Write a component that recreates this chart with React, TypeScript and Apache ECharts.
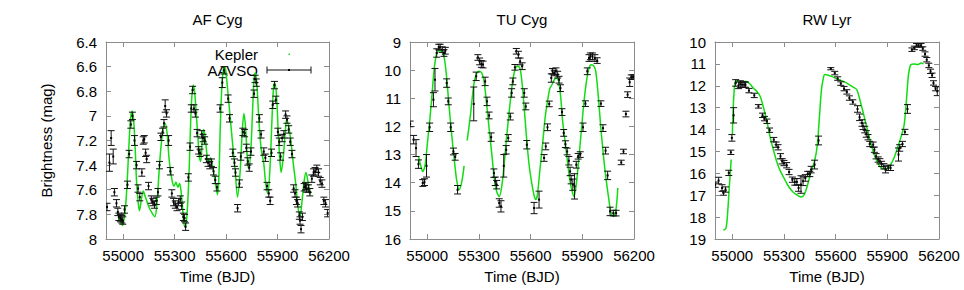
import React, { useEffect, useRef } from "react";
import * as echarts from "echarts";

// ---------- data ----------
const panelTitles = ["AF Cyg", "TU Cyg", "RW Lyr"];
const xTickValues = [55000, 55300, 55600, 55900, 56200];
const xRange = [54900, 56200];
const yRanges = [
  [6.4, 8, 0.2],
  [9, 16, 1],
  [10, 19, 1],
];

// Kepler light curves: [BJD, mag]
const afKepler: (number | null)[][] = [
  [54972, 7.82], [54985, 7.86], [54996, 7.89], [55005, 7.84], [55014, 7.74], [55023, 7.55],
  [55033, 7.26], [55043, 7.02], [55053, 6.96], [55062, 7.05], [55070, 7.26], [55078, 7.53],
  [55088, 7.71], [55095, 7.77], [55105, 7.69], [55117, 7.61], [55130, 7.66], [55150, 7.74],
  [55169, 7.79], [55185, 7.82], [55195, 7.74], [55205, 7.55], [55218, 7.29], [55234, 7.1],
  [55245, 7.06], [55257, 7.15], [55267, 7.34], [55277, 7.45], [55286, 7.53], [55296, 7.57],
  [55308, 7.54], [55319, 7.58], [55329, 7.55], [55339, 7.63], [55349, 7.79], [55358, 7.9],
  [55368, 7.87], [55378, 7.66], [55386, 7.39], [55393, 7.07], [55401, 6.83], [55409, 6.75],
  [55417, 6.81], [55427, 7.0], [55436, 7.18], [55444, 7.34], [55452, 7.37], [55462, 7.18],
  [55470, 7.11], [55480, 7.2], [55490, 7.33], [55500, 7.38], [55510, 7.34], [55522, 7.42],
  [55535, 7.52], [55550, 7.64], [55558, 7.5], [55566, 7.1], [55574, 6.8], [55582, 6.65],
  [55590, 6.6], [55598, 6.63], [55614, 6.86], [55633, 7.15], [55653, 7.45], [55667, 7.66],
  [55682, 7.45], [55694, 7.13], [55704, 6.98], [55714, 7.1], [55725, 7.37], [55733, 7.43],
  [55745, 7.26], [55755, 6.94], [55763, 6.7], [55771, 6.65], [55780, 6.75], [55792, 7.05],
  [55804, 7.26], [55820, 7.39], [55831, 7.55], [55843, 7.63], [55855, 7.45], [55867, 7.05],
  [55876, 6.78], [55884, 6.73], [55894, 6.83], [55904, 7.13], [55914, 7.37], [55921, 7.46],
  [55933, 7.34], [55945, 7.13], [55953, 7.03], [55967, 7.1], [55980, 7.23], [55992, 7.39],
  [56006, 7.55], [56019, 7.74], [56031, 7.82], [56043, 7.69], [56055, 7.53], [56066, 7.46],
  [56078, 7.54], [56092, 7.64],
];

const tuKepler: (number | null)[][] = [
  [54949, 13.06], [54961, 13.36], [54974, 13.6], [54988, 13.36], [55000, 12.65], [55014, 11.82],
  [55028, 10.87], [55039, 10.04], [55053, 9.45], [55067, 9.31], [55083, 9.33], [55099, 9.57],
  [55113, 10.28], [55126, 11.23], [55142, 12.29], [55158, 13.24], [55172, 13.95], [55186, 14.25],
  [55201, 13.95], [55214, 13.4], [55222, null], [55232, 12.5], [55251, 11.58], [55270, 10.52],
  [55284, 10.16], [55300, 10.04], [55316, 10.1], [55330, 10.4], [55343, 11.11], [55359, 12.06],
  [55375, 13.0], [55389, 13.83], [55403, 14.31], [55418, 14.49], [55434, 14.07], [55448, 13.24],
  [55462, 12.29], [55478, 11.34], [55493, 10.52], [55507, 10.04], [55521, 9.86], [55533, 9.88],
  [55541, 10.0], [55551, 10.5], [55561, 11.2], [55575, 12.3], [55590, 13.3], [55606, 14.0],
  [55620, 14.45], [55629, 14.6], [55639, 14.45], [55653, 13.6], [55669, 12.65], [55684, 11.7],
  [55698, 11.11], [55712, 10.64], [55724, 10.52], [55737, 10.34], [55751, 10.28], [55763, 10.4],
  [55775, 10.99], [55786, 11.82], [55800, 12.53], [55816, 13.36], [55829, 13.95], [55841, 14.31],
  [55851, 14.49], [55865, 14.07], [55880, 13.12], [55894, 12.18], [55908, 11.23], [55924, 10.4],
  [55939, 9.92], [55953, 9.81], [55967, 9.86], [55978, 10.04], [55992, 10.87], [56006, 11.94],
  [56022, 13.0], [56037, 13.83], [56053, 14.55], [56065, 15.02], [56080, 15.2], [56094, 15.02],
  [56106, 14.19],
];

const rwKepler: (number | null)[][] = [
  [54949, 18.6], [54964, 18.5], [54974, 17.73], [54984, 16.51], [54994, 15.37], [54997, null],
  [55001, 14.2], [55004, 13.32], [55014, 11.95], [55024, 11.77], [55043, 11.84], [55063, 11.8],
  [55083, 11.8], [55103, 11.92], [55122, 12.1], [55142, 12.25], [55162, 12.48], [55182, 13.01],
  [55201, 13.62], [55221, 14.38], [55241, 14.99], [55261, 15.53], [55280, 15.91], [55300, 16.21],
  [55320, 16.51], [55340, 16.74], [55359, 16.9], [55379, 17.0], [55399, 17.08], [55418, 16.97],
  [55438, 16.51], [55458, 15.91], [55478, 15.45], [55494, 14.69], [55507, 13.32], [55517, 12.25],
  [55527, 11.72], [55537, 11.49], [55557, 11.52], [55576, 11.57], [55596, 11.64], [55616, 11.72],
  [55645, 11.8], [55674, 11.92], [55704, 12.07], [55723, 12.18], [55743, 12.71], [55763, 13.32],
  [55782, 13.93], [55802, 14.54], [55821, 15.07], [55841, 15.45], [55861, 15.72], [55880, 15.8],
  [55900, 15.78], [55919, 15.6], [55939, 15.3], [55959, 14.84], [55978, 14.38], [55998, 13.77],
  [56012, 12.56], [56023, 11.49], [56037, 11.03], [56057, 11.0], [56076, 11.03], [56096, 10.96],
  [56110, 11.0],
];

// AAVSO observations: [BJD, mag, error]
const afAavso = [
  [54906, 7.74, 0.03], [54920, 7.38, 0.07], [54930, 7.18, 0.06], [54942, 7.33, 0.06],
  [54949, 7.62, 0.03], [54961, 7.71, 0.03], [54969, 7.78, 0.03], [54975, 7.82, 0.03],
  [54984, 7.83, 0.03], [54992, 7.84, 0.03], [54998, 7.85, 0.03], [55008, 7.76, 0.03],
  [55025, 7.56, 0.03], [55035, 7.31, 0.03], [55045, 7.07, 0.03], [55054, 7.0, 0.03],
  [55066, 7.2, 0.04], [55078, 7.4, 0.03], [55087, 7.59, 0.03], [55097, 7.66, 0.03],
  [55109, 7.46, 0.03], [55117, 7.2, 0.03], [55123, 7.19, 0.03], [55131, 7.3, 0.03],
  [55137, 7.35, 0.03], [55148, 7.57, 0.03], [55164, 7.68, 0.03], [55173, 7.7, 0.03],
  [55183, 7.72, 0.03], [55193, 7.69, 0.03], [55203, 7.62, 0.03], [55212, 7.4, 0.03],
  [55220, 7.17, 0.03], [55230, 7.13, 0.03], [55238, 7.06, 0.03], [55245, 6.92, 0.05],
  [55253, 6.98, 0.03], [55265, 7.2, 0.04], [55275, 7.45, 0.03], [55284, 7.63, 0.03],
  [55294, 7.7, 0.03], [55304, 7.72, 0.03], [55314, 7.74, 0.03], [55323, 7.7, 0.03],
  [55333, 7.68, 0.03], [55341, 7.73, 0.03], [55351, 7.82, 0.03], [55358, 7.83, 0.03],
  [55364, 7.9, 0.03], [55380, 7.5, 0.03], [55390, 7.25, 0.03], [55397, 6.94, 0.03],
  [55405, 6.79, 0.03], [55413, 6.94, 0.03], [55421, 6.98, 0.03], [55431, 7.14, 0.03],
  [55440, 7.28, 0.03], [55448, 7.3, 0.03], [55458, 7.15, 0.03], [55466, 7.18, 0.03],
  [55475, 7.2, 0.03], [55485, 7.35, 0.03], [55495, 7.38, 0.03], [55505, 7.4, 0.03],
  [55515, 7.38, 0.03], [55527, 7.45, 0.03], [55537, 7.52, 0.03], [55547, 7.58, 0.03],
  [55565, 6.94, 0.03], [55578, 6.73, 0.04], [55588, 6.63, 0.03], [55612, 6.86, 0.03],
  [55620, 7.02, 0.03], [55639, 7.3, 0.03], [55649, 7.38, 0.03], [55655, 7.46, 0.03],
  [55667, 7.75, 0.03], [55678, 7.55, 0.03], [55686, 7.33, 0.03], [55698, 7.13, 0.03],
  [55708, 7.14, 0.03], [55718, 7.26, 0.03], [55727, 7.37, 0.03], [55735, 7.42, 0.03],
  [55745, 7.29, 0.03], [55763, 6.82, 0.03], [55769, 6.7, 0.03], [55776, 6.73, 0.03],
  [55794, 7.02, 0.03], [55804, 7.15, 0.03], [55820, 7.29, 0.03], [55829, 7.34, 0.03],
  [55839, 7.57, 0.03], [55849, 7.63, 0.03], [55857, 7.69, 0.03], [55865, 7.3, 0.03],
  [55872, 6.91, 0.03], [55882, 6.75, 0.03], [55890, 6.87, 0.03], [55902, 7.13, 0.03],
  [55910, 7.21, 0.03], [55918, 7.33, 0.03], [55927, 7.18, 0.03], [55937, 7.15, 0.03],
  [55947, 6.99, 0.03], [55955, 7.03, 0.03], [55965, 7.11, 0.03], [55974, 7.21, 0.03],
  [55984, 7.31, 0.03], [55994, 7.59, 0.03], [56002, 7.63, 0.03], [56010, 7.69, 0.03],
  [56017, 7.71, 0.03], [56027, 7.81, 0.03], [56031, 7.85, 0.03], [56037, 7.92, 0.03],
  [56045, 7.82, 0.03], [56055, 7.58, 0.03], [56063, 7.57, 0.03], [56070, 7.59, 0.03],
  [56080, 7.59, 0.03], [56088, 7.62, 0.03], [56100, 7.51, 0.03], [56110, 7.46, 0.03],
  [56119, 7.45, 0.03], [56129, 7.43, 0.03], [56139, 7.46, 0.03], [56149, 7.53, 0.03],
  [56159, 7.55, 0.03], [56170, 7.69, 0.03], [56180, 7.71, 0.03], [56192, 7.79, 0.03],
];

const tuAavso = [
  [54901, 11.91, 0.1], [54921, 12.47, 0.15], [54935, 12.77, 0.3], [54949, 13.34, 0.15],
  [54974, 14.01, 0.12], [54984, 13.98, 0.12], [54996, 13.4, 0.4], [55014, 12.03, 0.15],
  [55036, 11.05, 0.25], [55045, 10.34, 0.4], [55055, 9.39, 0.15], [55067, 9.18, 0.1],
  [55075, 9.18, 0.1], [55087, 9.27, 0.1], [55097, 9.39, 0.12], [55105, 9.31, 0.12],
  [55113, 10.46, 0.15], [55122, 11.11, 0.12], [55136, 12.03, 0.15], [55152, 12.89, 0.12],
  [55162, 13.08, 0.12], [55176, 14.25, 0.15], [55270, 11.2, 0.6], [55284, 10.22, 0.15],
  [55294, 9.55, 0.1], [55304, 9.69, 0.12], [55314, 9.78, 0.12], [55324, 9.8, 0.12],
  [55336, 10.4, 0.15], [55347, 11.11, 0.15], [55359, 11.61, 0.12], [55371, 12.38, 0.15],
  [55387, 13.66, 0.15], [55395, 13.95, 0.15], [55403, 14.07, 0.15], [55418, 14.72, 0.15],
  [55428, 14.84, 0.2], [55444, 13.4, 0.4], [55458, 12.83, 0.15], [55470, 12.41, 0.12],
  [55482, 11.65, 0.12], [55490, 10.81, 0.15], [55497, 10.4, 0.12], [55509, 9.9, 0.1],
  [55517, 9.33, 0.1], [55529, 9.45, 0.12], [55539, 9.69, 0.12], [55551, 9.86, 0.12],
  [55563, 10.81, 0.15], [55572, 11.29, 0.12], [55578, 12.65, 0.15], [55620, 14.9, 0.2],
  [55649, 14.6, 0.3], [55678, 13.12, 0.12], [55688, 12.71, 0.12], [55698, 12.03, 0.12],
  [55708, 11.2, 0.1], [55720, 10.28, 0.15], [55727, 10.04, 0.1], [55737, 10.1, 0.1],
  [55747, 10.04, 0.12], [55757, 10.16, 0.12], [55765, 10.34, 0.12], [55773, 10.64, 0.12],
  [55782, 11.49, 0.12], [55792, 12.23, 0.12], [55802, 12.63, 0.12], [55812, 12.89, 0.12],
  [55822, 13.22, 0.15], [55829, 13.6, 0.15], [55835, 13.89, 0.15], [55845, 14.07, 0.2],
  [55855, 14.13, 0.45], [55865, 13.36, 0.12], [55876, 13.06, 0.1], [55888, 13.0, 0.1],
  [55904, 12.03, 0.15], [55918, 11.19, 0.1], [55929, 10.04, 0.12], [55939, 9.57, 0.12],
  [55947, 9.51, 0.12], [55959, 9.51, 0.12], [55973, 9.57, 0.12], [55986, 9.66, 0.1],
  [56008, 11.19, 0.1], [56020, 12.06, 0.12], [56035, 12.86, 0.12], [56047, 13.74, 0.15],
  [56061, 15.02, 0.15], [56080, 15.08, 0.1], [56096, 15.08, 0.1], [56126, 13.28, 0.08],
  [56139, 12.89, 0.08], [56153, 11.56, 0.1], [56163, 10.87, 0.1], [56175, 10.43, 0.15],
  [56184, 10.25, 0.08], [56194, 10.25, 0.08], [56202, 10.25, 0.08],
];

const rwAavso = [
  [54901, 16.52, 0.12], [54921, 16.33, 0.15], [54941, 16.67, 0.15], [54949, 16.9, 0.1],
  [54961, 16.74, 0.12], [54980, 15.98, 0.12], [54992, 15.04, 0.1], [54998, 14.38, 0.15],
  [55008, 13.35, 0.35], [55020, 11.87, 0.15], [55037, 11.98, 0.15], [55047, 11.92, 0.15],
  [55057, 11.95, 0.12], [55069, 11.95, 0.12], [55077, 11.95, 0.12], [55097, 12.22, 0.1],
  [55128, 12.44, 0.1], [55152, 12.94, 0.08], [55176, 13.35, 0.1], [55187, 13.5, 0.1],
  [55201, 13.62, 0.1], [55217, 14.03, 0.1], [55241, 14.46, 0.1], [55255, 14.69, 0.12],
  [55266, 14.81, 0.12], [55280, 15.22, 0.12], [55290, 15.45, 0.12], [55300, 15.53, 0.12],
  [55316, 15.63, 0.12], [55330, 15.94, 0.12], [55349, 16.29, 0.12], [55363, 16.39, 0.15],
  [55375, 16.39, 0.15], [55385, 16.67, 0.15], [55399, 16.51, 0.4], [55411, 16.36, 0.2],
  [55424, 16.21, 0.15], [55438, 16.03, 0.12], [55450, 16.03, 0.12], [55458, 15.83, 0.15],
  [55478, 15.6, 0.2], [55501, 14.5, 0.2], [55572, 11.22, 0.05], [55595, 11.42, 0.08],
  [55612, 11.67, 0.08], [55630, 11.9, 0.08], [55649, 12.13, 0.1], [55665, 12.28, 0.1],
  [55680, 12.56, 0.1], [55700, 12.74, 0.1], [55727, 13.06, 0.15], [55739, 13.44, 0.15],
  [55753, 13.7, 0.15], [55759, 13.85, 0.15], [55769, 14.0, 0.15], [55778, 14.2, 0.15],
  [55788, 14.35, 0.12], [55798, 14.66, 0.12], [55818, 14.69, 0.12], [55825, 14.92, 0.12],
  [55835, 15.22, 0.12], [55847, 15.37, 0.12], [55857, 15.45, 0.12], [55867, 15.57, 0.12],
  [55880, 15.68, 0.12], [55890, 15.83, 0.15], [55906, 15.75, 0.12], [55919, 15.75, 0.12],
  [55965, 15.14, 0.3], [55972, 14.84, 0.15], [55988, 14.66, 0.12], [56002, 14.11, 0.12],
  [56017, 13.06, 0.2], [56043, 10.35, 0.08], [56057, 10.27, 0.08], [56070, 10.15, 0.08],
  [56082, 10.15, 0.08], [56096, 10.15, 0.08], [56106, 10.3, 0.08], [56119, 10.55, 0.1],
  [56129, 10.81, 0.1], [56141, 11.07, 0.1], [56151, 11.34, 0.1], [56160, 11.52, 0.1],
  [56168, 11.87, 0.1], [56180, 12.13, 0.1], [56190, 12.25, 0.2],
];

const keplerSets = [afKepler, tuKepler, rwKepler];
const aavsoSets = [afAavso, tuAavso, rwAavso];

// ---------- styling ----------
const FONT = '"Liberation Sans", Arial, Helvetica, sans-serif';
const FRAME = "#8c8c8c";
const GREEN = "#11dd11";
const gridBoxes = [
  { left: 106, width: 223 },
  { left: 410, width: 224 },
  { left: 715, width: 224 },
];
const TOP = 42;
const HEIGHT = 197;

function errorBarItem(params: any, api: any) {
  const t = api.value(0);
  const m = api.value(1);
  const e = api.value(2);
  const c = api.coord([t, m]);
  const a = api.coord([t, m - e]);
  const b = api.coord([t, m + e]);
  const w = 3.5;
  const st = { stroke: "#111", lineWidth: 1 };
  return {
    type: "group",
    children: [
      { type: "line", shape: { x1: c[0], y1: a[1], x2: c[0], y2: b[1] }, style: st },
      { type: "line", shape: { x1: c[0] - w, y1: a[1], x2: c[0] + w, y2: a[1] }, style: st },
      { type: "line", shape: { x1: c[0] - w, y1: b[1], x2: c[0] + w, y2: b[1] }, style: st },
      { type: "rect", shape: { x: c[0] - 1, y: c[1] - 1, width: 2, height: 2 }, style: { fill: "#000" } },
    ],
  };
}

export default function App() {
  const ref = useRef<HTMLDivElement>(null);

  useEffect(() => {
    if (!ref.current) return;
    const chart = echarts.init(ref.current, undefined, { renderer: "svg" });

    const grid = gridBoxes.map((g) => ({ left: g.left, width: g.width, top: TOP, height: HEIGHT }));
    const xAxis: any[] = [];
    const yAxis: any[] = [];
    const series: any[] = [];

    gridBoxes.forEach((_, i) => {
      const [ymin, ymax, yint] = yRanges[i];
      const lineStyle = { color: FRAME, width: 1 };
      xAxis.push({
        type: "value",
        gridIndex: i,
        position: "bottom",
        min: xRange[0],
        max: xRange[1],
        name: "Time (BJD)",
        nameLocation: "middle",
        nameGap: 30,
        nameTextStyle: { fontFamily: FONT, fontSize: 15, color: "#000" },
        axisLine: { show: true, lineStyle },
        axisTick: { show: true, inside: true, length: 5, lineStyle, customValues: xTickValues },
        axisLabel: {
          show: true,
          customValues: xTickValues,
          formatter: (v: number) => String(v),
          margin: 9,
          fontFamily: FONT,
          fontSize: 15,
          color: "#000",
        },
        splitLine: { show: false },
      });
      xAxis.push({
        type: "value",
        gridIndex: i,
        position: "top",
        min: xRange[0],
        max: xRange[1],
        axisLine: { show: true, lineStyle },
        axisTick: { show: true, inside: true, length: 5, lineStyle, customValues: xTickValues },
        axisLabel: { show: false },
        splitLine: { show: false },
      });
      yAxis.push({
        type: "value",
        gridIndex: i,
        position: "left",
        inverse: true,
        min: ymin,
        max: ymax,
        interval: yint,
        name: i === 0 ? "Brightness (mag)" : "",
        nameLocation: "middle",
        nameGap: 52,
        nameTextStyle: { fontFamily: FONT, fontSize: 15, color: "#000" },
        axisLine: { show: true, lineStyle },
        axisTick: { show: true, inside: true, length: 5, lineStyle },
        axisLabel: {
          show: true,
          formatter: (v: number) => String(Math.round(v * 10) / 10),
          margin: 9,
          fontFamily: FONT,
          fontSize: 15,
          color: "#000",
        },
        splitLine: { show: false },
      });
      yAxis.push({
        type: "value",
        gridIndex: i,
        position: "right",
        inverse: true,
        min: ymin,
        max: ymax,
        interval: yint,
        axisLine: { show: true, lineStyle },
        axisTick: { show: true, inside: true, length: 5, lineStyle },
        axisLabel: { show: false },
        splitLine: { show: false },
      });

      series.push({
        name: "Kepler",
        type: "line",
        xAxisIndex: i * 2,
        yAxisIndex: i * 2,
        data: keplerSets[i],
        showSymbol: false,
        symbol: "none",
        smooth: 0.3,
        connectNulls: false,
        lineStyle: { color: GREEN, width: 1.5 },
        itemStyle: { color: GREEN },
        z: 2,
      });
      series.push({
        name: "AAVSO",
        type: "custom",
        xAxisIndex: i * 2,
        yAxisIndex: i * 2,
        data: aavsoSets[i],
        encode: { x: 0, y: 1 },
        renderItem: errorBarItem,
        clip: true,
        z: 3,
      });
    });

    const titleX = gridBoxes.map((g) => g.left + g.width / 2);
    const graphic: any[] = panelTitles.map((t, i) => ({
      type: "text",
      x: titleX[i],
      y: 19,
      style: {
        text: t,
        fontFamily: FONT,
        fontSize: 15,
        fill: "#000",
        align: "center",
        verticalAlign: "middle",
      },
    }));

    // legend in panel 1 (gnuplot style)
    const legSt = { stroke: "#111", lineWidth: 1 };
    graphic.push(
      {
        type: "text",
        x: 258,
        y: 54,
        style: {
          text: "Kepler",
          fontFamily: FONT,
          fontSize: 15,
          lineHeight: 15,
          fill: "#000",
          align: "right",
          verticalAlign: "middle",
        },
      },
      { type: "rect", shape: { x: 288.5, y: 53.5, width: 1.5, height: 1.5 }, style: { fill: GREEN } },
      {
        type: "text",
        x: 258,
        y: 70.5,
        style: {
          text: "AAVSO",
          fontFamily: FONT,
          fontSize: 15,
          lineHeight: 15,
          fill: "#000",
          align: "right",
          verticalAlign: "middle",
        },
      },
      { type: "line", shape: { x1: 267, y1: 70, x2: 311, y2: 70 }, style: legSt },
      { type: "line", shape: { x1: 267, y1: 66.5, x2: 267, y2: 73.5 }, style: legSt },
      { type: "line", shape: { x1: 311, y1: 66.5, x2: 311, y2: 73.5 }, style: legSt },
      { type: "rect", shape: { x: 288, y: 69, width: 2, height: 2 }, style: { fill: "#000" } }
    );

    chart.setOption({
      animation: false,
      backgroundColor: "#ffffff",
      textStyle: { fontFamily: FONT },
      grid,
      xAxis,
      yAxis,
      series,
      graphic,
    });

    return () => {
      chart.dispose();
    };
  }, []);

  return (
    <div
      ref={ref}
      style={{ position: "fixed", left: 0, top: 0, width: 964, height: 290, background: "#fff" }}
    />
  );
}
